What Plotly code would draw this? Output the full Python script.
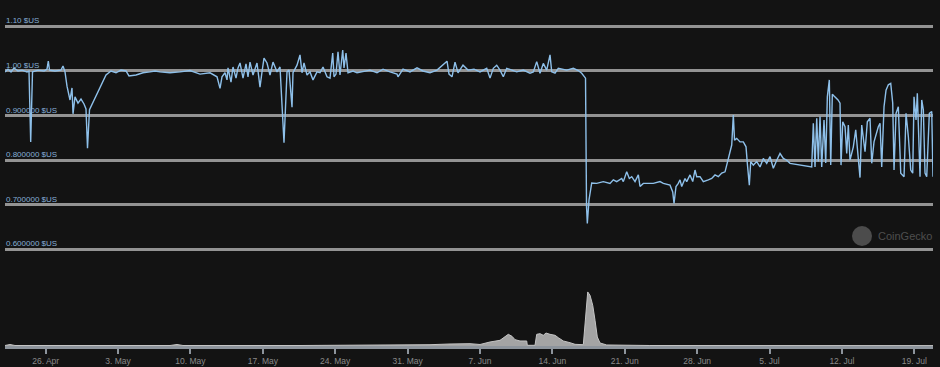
import plotly.graph_objects as go

# ---------------- data ----------------
price_time = [
    # late April
    "2021-04-22 01:32", "2021-04-22 08:30", "2021-04-22 15:30", "2021-04-22 22:24", "2021-04-23 07:42",
    "2021-04-23 17:00", "2021-04-24 04:36", "2021-04-24 09:14", "2021-04-24 13:10", "2021-04-24 17:21",
    "2021-04-25 06:07", "2021-04-25 20:04", "2021-04-26 03:01", "2021-04-26 06:02", "2021-04-26 08:49",
    "2021-04-26 21:35", "2021-04-27 11:31", "2021-04-27 16:09", "2021-04-27 20:48", "2021-04-28 01:26",
    "2021-04-28 08:24", "2021-04-28 13:03", "2021-04-28 15:22", "2021-04-28 20:01", "2021-04-29 02:58",
    "2021-04-29 09:56", "2021-04-29 16:54", "2021-04-29 21:32", "2021-04-30 01:02", "2021-04-30 05:40",
    "2021-05-01 19:58", "2021-05-02 07:34", "2021-05-02 19:10", "2021-05-03 06:47", "2021-05-03 18:23",
    "2021-05-04 01:20", "2021-05-04 17:35", "2021-05-05 09:50", "2021-05-06 02:05", "2021-05-06 13:42",
    # May
    "2021-05-07 01:18", "2021-05-08 00:30", "2021-05-08 23:43", "2021-05-09 22:55", "2021-05-10 22:09",
    "2021-05-11 21:22", "2021-05-12 13:36", "2021-05-12 20:34", "2021-05-13 01:12", "2021-05-13 08:10",
    "2021-05-13 12:49", "2021-05-13 15:08", "2021-05-13 22:06", "2021-05-14 02:44", "2021-05-14 09:42",
    "2021-05-14 14:20", "2021-05-14 18:59", "2021-05-15 01:57", "2021-05-15 08:55", "2021-05-15 13:33",
    "2021-05-15 18:12", "2021-05-16 01:10", "2021-05-16 10:26", "2021-05-16 17:24", "2021-05-16 22:03",
    "2021-05-17 02:41", "2021-05-17 09:39", "2021-05-17 16:37", "2021-05-17 23:35", "2021-05-18 08:51",
    "2021-05-18 15:50", "2021-05-19 01:06", "2021-05-19 08:05", "2021-05-19 12:43", "2021-05-19 19:41",
    "2021-05-19 22:00", "2021-05-20 07:18", "2021-05-20 14:15", "2021-05-20 18:53", "2021-05-20 23:32",
    "2021-05-21 06:30", "2021-05-21 13:28", "2021-05-21 20:25", "2021-05-22 05:42",
    # late May / early June
    "2021-05-22 12:40", "2021-05-22 19:38", "2021-05-23 04:55", "2021-05-23 11:53", "2021-05-23 18:09",
    "2021-05-23 21:10", "2021-05-24 01:48", "2021-05-24 06:27", "2021-05-24 11:05", "2021-05-24 17:21",
    "2021-05-24 20:22", "2021-05-25 01:01", "2021-05-25 05:40", "2021-05-25 17:16", "2021-05-26 02:33",
    "2021-05-26 16:29", "2021-05-27 08:44", "2021-05-28 00:59", "2021-05-28 14:55", "2021-05-29 07:09",
    "2021-05-29 23:24", "2021-05-30 01:44", "2021-05-30 13:20", "2021-05-31 05:34", "2021-05-31 21:49",
    "2021-06-01 11:44", "2021-06-02 03:59", "2021-06-02 20:14", "2021-06-03 14:48", "2021-06-03 19:26",
    "2021-06-04 00:05", "2021-06-04 07:03", "2021-06-04 14:01", "2021-06-04 20:59", "2021-06-05 08:35",
    "2021-06-05 20:11", "2021-06-06 10:07", "2021-06-07 00:03",
    # June up to the de-peg
    "2021-06-07 15:36", "2021-06-07 23:15", "2021-06-08 06:55", "2021-06-08 14:48", "2021-06-08 22:28",
    "2021-06-09 06:07", "2021-06-09 14:01", "2021-06-10 01:38", "2021-06-10 13:13", "2021-06-11 04:33",
    "2021-06-11 20:07", "2021-06-12 03:46", "2021-06-12 11:39", "2021-06-12 19:19", "2021-06-13 02:58",
    "2021-06-13 10:52", "2021-06-13 18:32", "2021-06-13 22:28", "2021-06-14 06:07", "2021-06-14 13:47",
    "2021-06-15 09:17", "2021-06-16 00:36", "2021-06-16 12:13", "2021-06-16 20:07", "2021-06-17 04:55",
    "2021-06-17 07:15", "2021-06-17 09:06", "2021-06-17 13:02", "2021-06-17 19:18",
    # after the de-peg
    "2021-06-18 06:55", "2021-06-18 22:13", "2021-06-19 13:46", "2021-06-19 21:27", "2021-06-20 05:20",
    "2021-06-20 16:56", "2021-06-20 20:40", "2021-06-21 04:33", "2021-06-21 10:35", "2021-06-21 16:09",
    "2021-06-21 23:49", "2021-06-22 07:28", "2021-06-22 11:25", "2021-06-22 19:05", "2021-06-23 18:17",
    "2021-06-24 09:50", "2021-06-24 17:30", "2021-06-25 09:03", "2021-06-25 15:19", "2021-06-25 18:20",
    "2021-06-25 22:58", "2021-06-26 04:19", "2021-06-26 08:16", "2021-06-26 12:13", "2021-06-26 19:52",
    "2021-06-26 23:49", "2021-06-27 07:28", "2021-06-27 13:45", "2021-06-27 19:05", "2021-06-27 23:01",
    "2021-06-28 06:41", "2021-06-28 14:21", "2021-06-29 01:57", "2021-06-29 09:50", "2021-06-29 17:30",
    "2021-06-30 01:09", "2021-06-30 09:03", "2021-06-30 16:42", "2021-06-30 20:40", "2021-07-01 00:22",
    "2021-07-01 08:15", "2021-07-01 11:58", "2021-07-01 14:45", "2021-07-01 19:52", "2021-07-02 03:32",
    "2021-07-02 11:11", "2021-07-02 17:27", "2021-07-02 20:28", "2021-07-03 01:06", "2021-07-03 04:22",
    "2021-07-03 10:24", "2021-07-03 18:17", "2021-07-04 01:57", "2021-07-04 09:36", "2021-07-04 17:30",
    "2021-07-05 01:09", "2021-07-05 08:49", "2021-07-05 16:42", "2021-07-06 00:22", "2021-07-06 08:02",
    "2021-07-06 15:55", "2021-07-06 23:35", "2021-07-07 15:08", "2021-07-08 06:27", "2021-07-08 18:03",
    "2021-07-09 01:57",
    # oscillation
    "2021-07-09 05:40", "2021-07-09 09:36", "2021-07-09 13:33", "2021-07-09 17:15", "2021-07-09 21:13",
    "2021-07-10 01:09", "2021-07-10 06:30", "2021-07-10 10:26", "2021-07-10 14:10", "2021-07-10 18:48",
    "2021-07-10 22:03", "2021-07-11 01:46", "2021-07-11 05:43", "2021-07-11 15:00", "2021-07-11 19:38",
    "2021-07-11 21:58", "2021-07-12 01:54", "2021-07-12 07:15", "2021-07-12 11:11", "2021-07-12 14:54",
    "2021-07-12 18:51", "2021-07-13 02:30", "2021-07-13 08:05", "2021-07-13 12:43", "2021-07-13 18:03",
    "2021-07-13 22:00", "2021-07-14 05:40", "2021-07-14 11:00", "2021-07-14 17:17", "2021-07-14 21:13",
    "2021-07-15 02:33", "2021-07-15 12:31", "2021-07-15 16:29", "2021-07-15 20:25", "2021-07-16 01:46",
    "2021-07-16 06:25", "2021-07-16 11:44", "2021-07-16 17:18", "2021-07-16 21:57", "2021-07-17 00:59",
    "2021-07-17 05:37", "2021-07-17 10:57", "2021-07-17 16:32", "2021-07-18 00:12", "2021-07-18 04:50",
    "2021-07-18 10:10", "2021-07-18 15:45", "2021-07-18 20:23", "2021-07-18 23:24", "2021-07-19 04:02",
    "2021-07-19 07:03", "2021-07-19 13:19", "2021-07-19 17:16", "2021-07-19 20:59", "2021-07-20 00:56",
    "2021-07-20 04:52", "2021-07-20 10:55", "2021-07-20 16:29", "2021-07-20 19:26",
]

price_usd = [
    # late April
    0.998, 1.004, 0.998, 1.007, 1.000,
    1.002, 0.998, 1.000, 0.841, 0.998,
    1.002, 1.000, 1.004, 1.022, 1.002,
    1.000, 1.002, 1.011, 0.998, 0.966,
    0.935, 0.962, 0.904, 0.942, 0.928,
    0.937, 0.926, 0.915, 0.827, 0.913,
    0.991, 1.000, 0.996, 1.002, 1.000,
    0.989, 0.991, 0.996, 0.998, 1.000,
    # May
    0.998, 0.996, 0.998, 1.001, 0.993,
    0.996, 0.987, 0.961, 0.987, 0.996,
    0.980, 1.007, 0.975, 1.009, 0.984,
    1.007, 1.018, 0.984, 1.016, 0.987,
    1.020, 0.991, 1.018, 0.964, 0.998,
    1.029, 1.018, 0.991, 1.020, 0.998,
    1.009, 0.839, 0.998, 1.002, 0.919,
    0.996, 1.013, 1.036, 0.996, 1.018,
    0.991, 0.998, 0.980, 0.998,
    # late May / early June
    0.996, 1.009, 0.987, 0.984, 1.040,
    0.987, 0.993, 1.043, 0.991, 1.047,
    1.007, 1.040, 0.996, 1.000, 0.996,
    0.999, 1.002, 0.996, 1.004, 0.998,
    0.993, 0.987, 1.004, 0.998, 1.007,
    1.000, 0.996, 1.002, 1.018, 1.022,
    0.993, 0.987, 1.020, 0.996, 1.013,
    1.002, 1.004, 0.998,
    # June up to the de-peg
    1.006, 0.984, 1.006, 1.013, 1.002,
    0.987, 1.006, 1.002, 0.998, 1.002,
    0.995, 0.998, 1.021, 0.995, 1.017,
    1.002, 1.036, 0.998, 0.995, 1.006,
    1.002, 1.006, 1.001, 0.995, 0.984,
    0.697, 0.658, 0.711, 0.749,
    # after the de-peg
    0.748, 0.752, 0.748, 0.756, 0.752,
    0.759, 0.752, 0.774, 0.759, 0.763,
    0.752, 0.767, 0.741, 0.748, 0.748,
    0.752, 0.748, 0.744, 0.729, 0.703,
    0.741, 0.748, 0.756, 0.741, 0.759,
    0.752, 0.767, 0.752, 0.778, 0.763,
    0.763, 0.752, 0.756, 0.759, 0.767,
    0.763, 0.771, 0.774, 0.789, 0.804,
    0.834, 0.901, 0.845, 0.849, 0.841,
    0.841, 0.830, 0.793, 0.744, 0.797,
    0.789, 0.797, 0.785, 0.804, 0.793,
    0.808, 0.782, 0.800, 0.815, 0.804,
    0.800, 0.793, 0.791, 0.789, 0.787,
    0.785,
    # oscillation
    0.883, 0.785, 0.894, 0.797, 0.898,
    0.785, 0.890, 0.794, 0.942, 0.980,
    0.789, 0.948, 0.944, 0.935, 0.928,
    0.789, 0.886, 0.875, 0.815, 0.879,
    0.800, 0.830, 0.868, 0.808, 0.761,
    0.879, 0.819, 0.886, 0.894, 0.793,
    0.841, 0.875, 0.883, 0.785, 0.920,
    0.957, 0.969, 0.972, 0.928, 0.778,
    0.905, 0.920, 0.771, 0.763, 0.905,
    0.853, 0.778, 0.771, 0.942, 0.890,
    0.950, 0.763, 0.935, 0.913, 0.771,
    0.763, 0.905, 0.909, 0.763,
]

volume_time = [
    "2021-04-22 01:32", "2021-04-22 13:07", "2021-04-23 00:45", "2021-04-27 09:12", "2021-05-03 04:36",
    "2021-05-08 00:30", "2021-05-08 16:45", "2021-05-09 06:41", "2021-05-20 14:15", "2021-05-30 06:22",
    "2021-06-02 03:59", "2021-06-04 02:25", "2021-06-06 00:50", "2021-06-07 00:03", "2021-06-07 23:15",
    "2021-06-08 22:28", "2021-06-09 10:05", "2021-06-09 17:44", "2021-06-10 02:20", "2021-06-10 09:17",
    "2021-06-10 20:53", "2021-06-11 12:26", "2021-06-11 13:49", "2021-06-12 07:42", "2021-06-12 11:39",
    "2021-06-12 19:19", "2021-06-13 02:58", "2021-06-13 09:14", "2021-06-13 18:32", "2021-06-14 06:07",
    "2021-06-14 13:47", "2021-06-15 01:24", "2021-06-15 16:57", "2021-06-16 04:34", "2021-06-16 23:49",
    "2021-06-17 06:04", "2021-06-17 10:02", "2021-06-17 15:22", "2021-06-17 21:38", "2021-06-18 02:58",
    "2021-06-18 08:18", "2021-06-18 14:34", "2021-06-19 06:07", "2021-06-23 10:19", "2021-07-03 02:24",
    "2021-07-12 18:51", "2021-07-20 19:26",
]

volume_musd = [
    0.9, 2.8, 0.9, 0.9, 0.9,
    0.9, 2.8, 0.9, 0.9, 1.3,
    2.4, 3.7, 4.3, 2.8, 7.4,
    10.5, 16.7, 21.6, 17.9, 11.7,
    9.3, 9.3, 1.3, 1.3, 21.6,
    22.8, 19.8, 24.0, 21.6, 19.8,
    15.4, 9.3, 6.1, 3.1, 2.4,
    59.2, 100.0, 93.8, 75.3, 47.5,
    16.7, 5.6, 1.9, 0.9, 0.7,
    0.7, 0.7,
]

price_tick_vals = [0.6, 0.7, 0.8, 0.9, 1.0, 1.1]
price_tick_text = ["0.600000 $US", "0.700000 $US", "0.800000 $US", "0.900000 $US", "1.00 $US", "1.10 $US"]

date_ticks = ["2021-04-26", "2021-05-03", "2021-05-10", "2021-05-17", "2021-05-24", "2021-05-31",
              "2021-06-07", "2021-06-14", "2021-06-21", "2021-06-28", "2021-07-05", "2021-07-12",
              "2021-07-19"]
date_tick_text = ["26. Apr", "3. May", "10. May", "17. May", "24. May", "31. May", "7. Jun",
                  "14. Jun", "21. Jun", "28. Jun", "5. Jul", "12. Jul", "19. Jul"]

# ---------------- figure ----------------
BG = "#131313"
FONT = "Liberation Sans, DejaVu Sans, sans-serif"

fig = go.Figure()

fig.add_trace(go.Scatter(
    x=volume_time, y=volume_musd, xaxis="x", yaxis="y2",
    mode="lines", line=dict(color="#c4c4c4", width=1),
    fill="tozeroy", fillcolor="rgba(190,190,190,0.85)",
    hoverinfo="skip", showlegend=False,
))

fig.add_trace(go.Scatter(
    x=price_time, y=price_usd, xaxis="x", yaxis="y",
    mode="lines", line=dict(color="#8ec0ea", width=1.4),
    showlegend=False,
))

# price-axis labels sit just above each grid line, at the left edge
label_annotations = [
    dict(text=txt, xref="paper", yref="y", x=0, y=val,
         xanchor="left", yanchor="bottom", xshift=-1, yshift=-1, showarrow=False,
         font=dict(family=FONT, size=8, color="#86aed6"))
    for val, txt in zip(price_tick_vals, price_tick_text)
]

fig.update_layout(
    width=940, height=367,
    margin=dict(l=5, r=7, t=0, b=21),
    paper_bgcolor=BG, plot_bgcolor=BG,
    font=dict(family=FONT, size=8, color="#8a8a8a"),
    xaxis=dict(
        type="date", anchor="y2", domain=[0, 1],
        range=["2021-04-22 01:32", "2021-07-20 19:26"],
        tickmode="array", tickvals=date_ticks, ticktext=date_tick_text,
        showgrid=False, zeroline=False,
        showline=True, linecolor="#8d949c", linewidth=3,
        ticks="outside", ticklen=5, tickwidth=1.5, tickcolor="#8d949c",
        tickfont=dict(family=FONT, size=8.5, color="#8a8a8a"),
    ),
    yaxis=dict(
        domain=[0.2147, 0.9882], range=[0.55, 1.15],
        tickvals=price_tick_vals, showticklabels=False,
        showgrid=True, gridcolor="#939393", gridwidth=2.5,
        zeroline=False, showline=False, ticks="",
    ),
    yaxis2=dict(
        domain=[0, 0.2], range=[0, 128],
        showgrid=False, zeroline=False, showline=False,
        showticklabels=False, ticks="",
    ),
    shapes=[dict(
        type="circle", xref="paper", yref="paper",
        x0=0.9127, x1=0.9343, y0=0.289, y1=0.347,
        fillcolor="#4c4c4c", line=dict(width=0), layer="below",
    )],
    annotations=label_annotations + [dict(
        text="CoinGecko", xref="paper", yref="paper",
        x=0.9388, y=0.318, xanchor="left", yanchor="middle",
        showarrow=False, font=dict(family=FONT, size=11, color="#4e4e4e"),
    )],
)

fig.write_html("out.html")
